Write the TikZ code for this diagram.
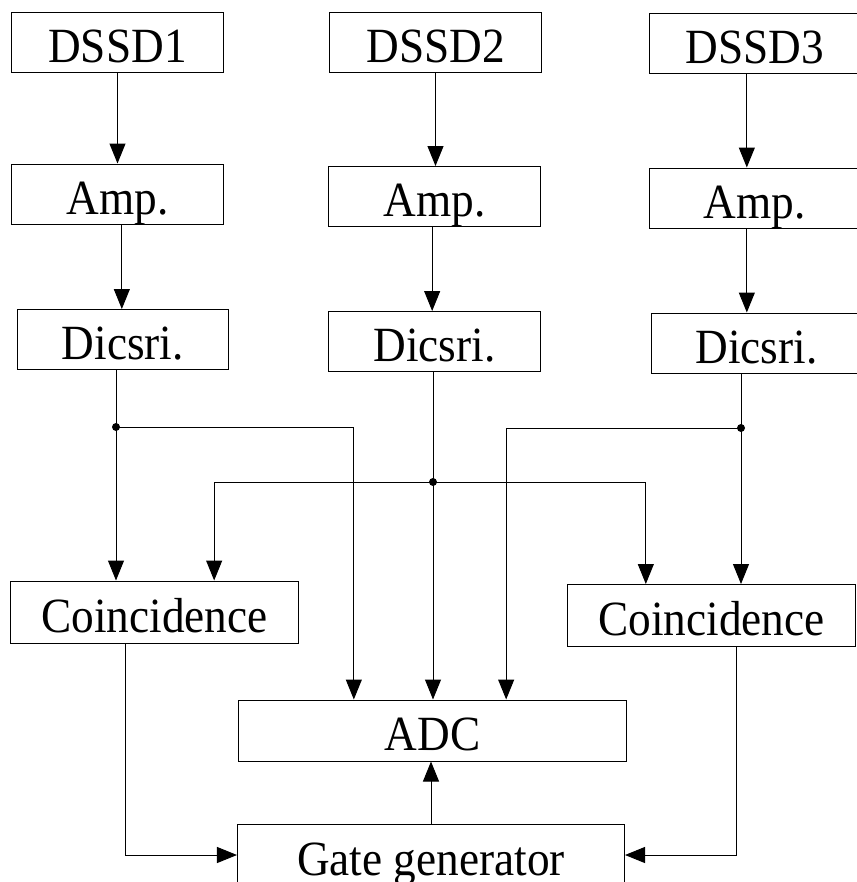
\documentclass[tikz,border=0pt]{standalone}
\usepackage{fontspec}
\setmainfont{Liberation Serif}
\usepackage{graphicx}
\usetikzlibrary{arrows.meta}
\newcommand{\narrowtext}[1]{\scalebox{0.92}[1]{#1}}

\begin{document}
\begin{tikzpicture}[x=0.03cm,y=-0.03cm,line width=0.85pt,
  >={Triangle[length=0.6cm,width=0.48cm]},
  blk/.style={draw, inner sep=0pt, minimum width=6.33cm, minimum height=1.8cm,
    font=\fontsize{42}{48}\selectfont, text height=1.2cm, text depth=0pt},
  wideblk/.style={blk, minimum width=8.64cm, minimum height=1.86cm},
  widestblk/.style={blk, minimum width=11.61cm, minimum height=1.83cm},
  dot/.style={fill, circle, inner sep=0pt, minimum size=0.24cm}]
\useasboundingbox (0,0) rectangle (857,882);
\clip (0,0) rectangle (857,882);

\node[blk] (dssdA) at (117.5,42) {\narrowtext{DSSD1}};
\node[blk] (dssdB) at (435.5,42) {\narrowtext{DSSD2}};
\node[blk] (dssdC) at (754.5,43.5) {\narrowtext{DSSD3}};
\node[blk] (ampA) at (117.5,194) {\narrowtext{Amp.}};
\node[blk] (ampB) at (434.5,196.5) {\narrowtext{Amp.}};
\node[blk] (ampC) at (754.5,198) {\narrowtext{Amp.}};
\node[blk] (dicA) at (122.75,339.5) {\narrowtext{Dicsri.}};
\node[blk] (dicB) at (434.5,341.5) {\narrowtext{Dicsri.}};
\node[blk] (dicC) at (756.5,343) {\narrowtext{Dicsri.}};
\node[wideblk] (coinA) at (154.5,612) {\narrowtext{Coincidence}};
\node[wideblk] (coinB) at (711.5,615.5) {\narrowtext{Coincidence}};
\node[widestblk] (adc) at (432.5,730.5) {\narrowtext{ADC}};
\node[widestblk] (gate) at (431,855) {\narrowtext{Gate generator}};

% branch points
\coordinate (jA) at (116,427);
\coordinate (jB) at (433,482);
\coordinate (jC) at (741,428);
\coordinate (ampAout) at ([xshift=0.13cm]ampA.south);
\coordinate (ampBout) at ([xshift=-0.07cm]ampB.south);
\coordinate (dssdCout) at ([xshift=-0.23cm]dssdC.south);
\coordinate (ampCout) at ([xshift=-0.23cm]ampC.south);
\coordinate (coinAout) at ([xshift=-0.86cm]coinA.south);
\coordinate (coinBout) at ([xshift=0.74cm]coinB.south);

\draw[->] (dssdA.south) -- (dssdA.south |- ampA.north);
\draw[->] (ampAout) -- (ampAout |- dicA.north);
\draw (jA |- dicA.south) -- (jA);
\draw[->] (jA) -- (jA |- coinA.north);
\draw[->] (jA) -| ([xshift=-2.36cm]adc.north);

\draw[->] (dssdB.south) -- (dssdB.south |- ampB.north);
\draw[->] (ampBout) -- (ampBout |- dicB.north);
\draw[->] (jB |- dicB.south) -- (jB |- adc.north);
\draw[->] (jB) -| ([xshift=1.79cm]coinA.north);
\draw[->] (jB) -| ([xshift=-1.97cm]coinB.north);

\draw[->] (dssdCout) -- (dssdCout |- ampC.north);
\draw[->] (ampCout) -- (ampCout |- dicC.north);
\draw (jC |- dicC.south) -- (jC);
\draw[->] (jC) -- (jC |- coinB.north);
\draw[->] (jC) -| ([xshift=2.21cm]adc.north);

\draw[->] (coinAout) |- (gate.west);
\draw[->] (coinBout) |- (gate.east);
\draw[->] (gate.north) -- (gate.north |- adc.south);

\node[dot] at (jA) {};
\node[dot] at (jB) {};
\node[dot] at (jC) {};
\end{tikzpicture}
\end{document}
